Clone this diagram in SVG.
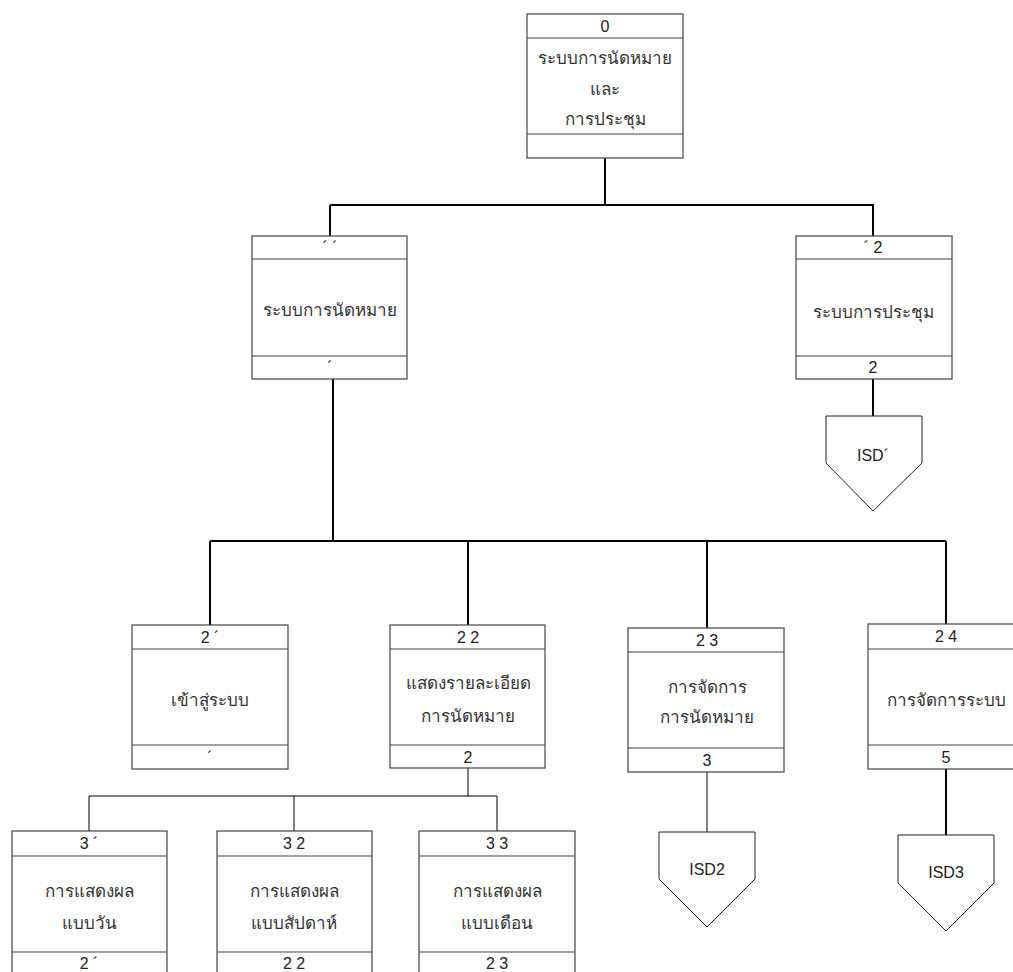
<svg xmlns="http://www.w3.org/2000/svg" width="1013" height="972" viewBox="0 0 1013 972">
<style>
.box{fill:#fff;stroke:#444;stroke-width:1.2}
.sep{stroke:#444;stroke-width:1.2}
.thick{stroke:#000;stroke-width:2;fill:none}
.thin{stroke:#000;stroke-width:1;fill:none}
.pent{fill:#fff;stroke:#222;stroke-width:1}
text{font-family:"Liberation Sans","Noto Sans",sans-serif;font-size:16px;fill:#222;text-anchor:middle;dominant-baseline:central}
.th{font-size:17px;fill:#333}
</style>
<rect width="1013" height="972" fill="#fff"/>
<g id="connectors">
<path class="thick" d="M605 158V205M330 205H874M330 205V236M873 205V236"/>
<path class="thick" d="M333 379V541M210 541H946M210 541V625M468 541V625M707 541V628M946 541V624"/>
<path class="thick" d="M873 379V416"/>
<path class="thick" d="M946 769V835"/>
<path class="thin" d="M707 772V832"/>
<path class="thin" d="M468 768V796M89 796H497M89 796V831M294 796V831M497 796V831"/>
</g>
<g id="n0">
<rect class="box" x="527" y="14" width="156" height="144"/>
<line class="sep" x1="527" y1="38" x2="683" y2="38"/>
<line class="sep" x1="527" y1="134" x2="683" y2="134"/>
<text x="605" y="26">0</text>
<text class="th" x="605" y="58">ระบบการนัดหมาย</text>
<text class="th" x="605" y="89">และ</text>
<text class="th" x="605" y="119">การประชุม</text>
</g>
<g id="n11">
<rect class="box" x="252" y="236" width="155" height="143"/>
<line class="sep" x1="252" y1="259" x2="407" y2="259"/>
<line class="sep" x1="252" y1="356" x2="407" y2="356"/>
<text x="330" y="247">´ ´</text>
<text class="th" x="330" y="310">ระบบการนัดหมาย</text>
<text x="330" y="367">´</text>
</g>
<g id="n12">
<rect class="box" x="796" y="236" width="156" height="143"/>
<line class="sep" x1="796" y1="259" x2="952" y2="259"/>
<line class="sep" x1="796" y1="356" x2="952" y2="356"/>
<text x="873" y="247">´ 2</text>
<text class="th" x="873" y="312">ระบบการประชุม</text>
<text x="873" y="367">2</text>
</g>
<g id="isd1">
<polygon class="pent" points="826,416 922,416 922,463 873,511 826,463"/>
<text x="873" y="455">ISD´</text>
</g>
<g id="n21">
<rect class="box" x="132" y="625" width="156" height="144"/>
<line class="sep" x1="132" y1="649" x2="288" y2="649"/>
<line class="sep" x1="132" y1="745" x2="288" y2="745"/>
<text x="210" y="637">2 ´</text>
<text class="th" x="210" y="700">เข้าสู่ระบบ</text>
<text x="210" y="757">´</text>
</g>
<g id="n22">
<rect class="box" x="390" y="625" width="155" height="143"/>
<line class="sep" x1="390" y1="649" x2="545" y2="649"/>
<line class="sep" x1="390" y1="745" x2="545" y2="745"/>
<text x="468" y="637">2 2</text>
<text class="th" x="468" y="683">แสดงรายละเอียด</text>
<text class="th" x="468" y="716">การนัดหมาย</text>
<text x="468" y="757">2</text>
</g>
<g id="n23">
<rect class="box" x="628" y="628" width="156" height="144"/>
<line class="sep" x1="628" y1="652" x2="784" y2="652"/>
<line class="sep" x1="628" y1="748" x2="784" y2="748"/>
<text x="707" y="640">2 3</text>
<text class="th" x="707" y="687">การจัดการ</text>
<text class="th" x="707" y="717">การนัดหมาย</text>
<text x="707" y="760">3</text>
</g>
<g id="n24">
<rect class="box" x="868" y="624" width="156" height="145"/>
<line class="sep" x1="868" y1="649" x2="1024" y2="649"/>
<line class="sep" x1="868" y1="745" x2="1024" y2="745"/>
<text x="946" y="636">2 4</text>
<text class="th" x="946" y="700">การจัดการระบบ</text>
<text x="946" y="757">5</text>
</g>
<g id="isd2">
<polygon class="pent" points="659,832 755,832 755,879 707,927 659,879"/>
<text x="707" y="869">ISD2</text>
</g>
<g id="isd3">
<polygon class="pent" points="898,835 994,835 994,883 946,931 898,883"/>
<text x="946" y="872">ISD3</text>
</g>
<g id="n31">
<rect class="box" x="12" y="831" width="155" height="150"/>
<line class="sep" x1="12" y1="856" x2="167" y2="856"/>
<line class="sep" x1="12" y1="952" x2="167" y2="952"/>
<text x="89" y="843">3 ´</text>
<text class="th" x="89" y="891">การแสดงผล</text>
<text class="th" x="89" y="923">แบบวัน</text>
<text x="89" y="963">2 ´</text>
</g>
<g id="n32">
<rect class="box" x="217" y="831" width="155" height="150"/>
<line class="sep" x1="217" y1="856" x2="372" y2="856"/>
<line class="sep" x1="217" y1="952" x2="372" y2="952"/>
<text x="294" y="843">3 2</text>
<text class="th" x="294" y="891">การแสดงผล</text>
<text class="th" x="294" y="923">แบบสัปดาห์</text>
<text x="294" y="963">2 2</text>
</g>
<g id="n33">
<rect class="box" x="419" y="831" width="156" height="150"/>
<line class="sep" x1="419" y1="856" x2="575" y2="856"/>
<line class="sep" x1="419" y1="952" x2="575" y2="952"/>
<text x="497" y="843">3 3</text>
<text class="th" x="497" y="891">การแสดงผล</text>
<text class="th" x="497" y="923">แบบเดือน</text>
<text x="497" y="963">2 3</text>
</g>
</svg>
